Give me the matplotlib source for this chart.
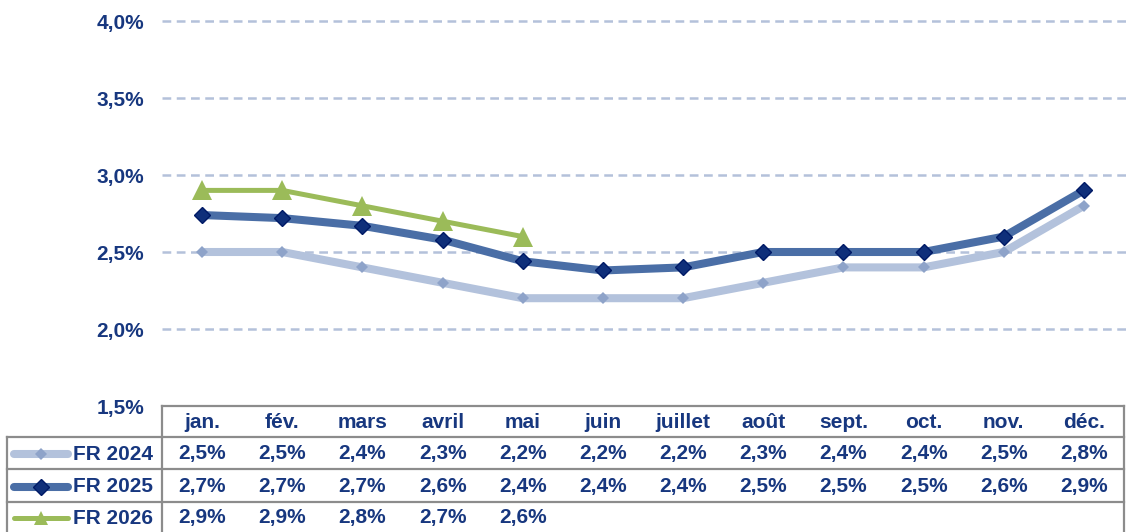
import matplotlib
matplotlib.use("Agg")
import matplotlib.pyplot as plt
from matplotlib.lines import Line2D
import matplotlib.transforms as mtransforms

months = ["jan.", "fév.", "mars", "avril", "mai", "juin", "juillet", "août",
          "sept.", "oct.", "nov.", "déc."]
fr2024 = [2.5, 2.5, 2.4, 2.3, 2.2, 2.2, 2.2, 2.3, 2.4, 2.4, 2.5, 2.8]
fr2025 = [2.74, 2.72, 2.67, 2.58, 2.44, 2.38, 2.40, 2.50, 2.50, 2.50, 2.60, 2.90]
fr2026 = [2.9, 2.9, 2.8, 2.7, 2.6]
series_names = ["FR 2024", "FR 2025", "FR 2026"]
yticks = [1.5, 2.0, 2.5, 3.0, 3.5, 4.0]

W, H = 1127, 532
TXT = "#17377f"
FONT = "Liberation Sans"
FS = 15
plt.rcParams["font.family"] = [FONT, "DejaVu Sans"]

fig = plt.figure(figsize=(W / 100, H / 100), dpi=100)

def fx(px):
    return px / W

def fy(py):
    return 1 - py / H

ax_l, ax_r = 162, 1124
ax_t, ax_b = 21, 406
ax = fig.add_axes([fx(ax_l), fy(ax_b), fx(ax_r - ax_l), (ax_b - ax_t) / H])
ax.set_xlim(-0.5, len(months) - 0.5)
ax.set_ylim(1.5, 4.0)
for s in ax.spines.values():
    s.set_visible(False)
ax.set_xticks([])
ax.set_yticks(yticks)
ax.set_yticklabels([f"{v:.1f}%".replace(".", ",") for v in yticks],
                   fontsize=FS, fontweight="bold", color=TXT)
ax.tick_params(axis="y", length=0, pad=13)
for v in yticks[1:]:
    ax.axhline(v, color="#b4c1da", lw=1.8, ls=(0, (3.5, 2.2)), zorder=1,
               xmin=0, xmax=1.01, clip_on=False)

styles = [
    dict(color="#b3c2dc", lw=5.8, marker="D", ms=6, mfc="#8ea3c9", mec="#8ea3c9", mew=0),
    dict(color="#4a6ea6", lw=5.8, marker="D", ms=8, mfc="#0f2f7a", mec="#001a66", mew=1),
    dict(color="#9bbb59", lw=3.6, marker="^", ms=14, mfc="#9bbb59", mec="#9bbb59", mew=0),
]
data = [fr2024, fr2025, fr2026]
for d, st in zip(data, styles):
    ax.plot(range(len(d)), d, zorder=3, clip_on=False, solid_capstyle="butt", **st)

# --- data table ---
trans = mtransforms.blended_transform_factory(ax.transData, fig.transFigure)
rows_y = [406, 437, 469, 502, 532]
border = "#8c8c8c"
lwb = 1.6
fig.add_artist(Line2D([fx(162), fx(1124)], [fy(406), fy(406)], color=border, lw=lwb))
fig.add_artist(Line2D([fx(162), fx(162)], [fy(406), fy(532)], color=border, lw=lwb))
fig.add_artist(Line2D([fx(1124), fx(1124)], [fy(406), fy(532)], color=border, lw=lwb))
fig.add_artist(Line2D([fx(7), fx(7)], [fy(437), fy(532)], color=border, lw=lwb))
for yb in rows_y[1:4]:
    fig.add_artist(Line2D([fx(7), fx(1124)], [fy(yb), fy(yb)], color=border, lw=lwb))

for i, m in enumerate(months):
    fig.text(i, fy((rows_y[0] + rows_y[1]) / 2 + 1), m, transform=trans,
             ha="center", va="center", fontsize=FS, fontweight="bold", color=TXT)

for r, (d, st, name) in enumerate(zip(data, styles, series_names)):
    yc = fy((rows_y[r + 1] + rows_y[r + 2]) / 2 + 1)
    for i, v in enumerate(d):
        fig.text(i, yc, f"{v:.1f}%".replace(".", ","), transform=trans,
                 ha="center", va="center", fontsize=FS, fontweight="bold", color=TXT)
    fig.text(fx(73), yc, name, ha="left", va="center", fontsize=FS,
             fontweight="bold", color=TXT)
    key = dict(st)
    key["ms"] = st["ms"] * (0.75 if st["marker"] == "^" else 1)
    fig.add_artist(Line2D([fx(14), fx(68)], [yc, yc], solid_capstyle="round",
                          **{k: v for k, v in key.items() if k not in ("marker", "ms", "mfc", "mec", "mew")}))
    fig.add_artist(Line2D([fx(41)], [yc], ls="none",
                          **{k: v for k, v in key.items() if k not in ("color", "lw")}))

fig.savefig("out.png", dpi=100)
